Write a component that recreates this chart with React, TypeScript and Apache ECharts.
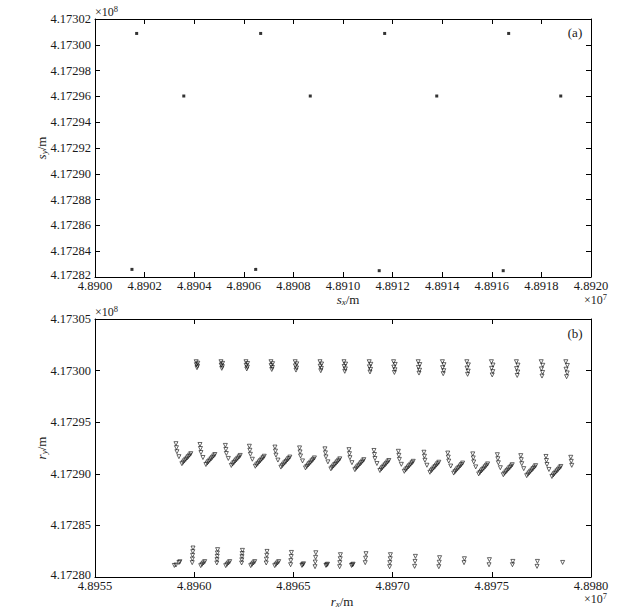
import { useEffect, useRef } from 'react';
import * as echarts from 'echarts';

const FONT = '"Liberation Serif", "Times New Roman", serif';
const INK = '#1a1a1a';

// ---------- panel (a): s_x / s_y in metres ----------
const aXTicks = { min: 48900000, max: 48920000, interval: 2000 };
const aYTicks = { min: 417282000, max: 417302000, interval: 2000 };

const aUpper: [number, number][] = [
  [48901680, 417300880], [48906680, 417300880], [48911680, 417300880], [48916680, 417300880],
];
const aMiddle: [number, number][] = [
  [48903580, 417296030], [48908680, 417296030], [48913780, 417296030], [48918780, 417296030],
];
const aLower: [number, number][] = [
  [48901490, 417282590], [48906480, 417282590], [48911460, 417282490], [48916460, 417282490],
];

// ---------- panel (b): r_x / r_y in metres ----------
const bXTicks = { min: 48955000, max: 48980000, interval: 5000 };
const bYTicks = { min: 417280000, max: 417305000, interval: 5000 };

const bUpper: [number, number][] = [
  [48960100, 417300860], [48960180, 417300715], [48960110, 417300570], [48960170, 417300425], [48960140, 417300280],
  [48961350, 417300860], [48961430, 417300700], [48961360, 417300540], [48961420, 417300380], [48961390, 417300220],
  [48962610, 417300860], [48962690, 417300685], [48962620, 417300510], [48962680, 417300335], [48962650, 417300160],
  [48963870, 417300860], [48963950, 417300670], [48963880, 417300485], [48963940, 417300300], [48963910, 417300110],
  [48965090, 417300860], [48965170, 417300655], [48965100, 417300455], [48965160, 417300250], [48965130, 417300050],
  [48966340, 417300860], [48966420, 417300640], [48966350, 417300425], [48966410, 417300210], [48966380, 417299990],
  [48967550, 417300860], [48967630, 417300630], [48967560, 417300395], [48967620, 417300165], [48967590, 417299930],
  [48968820, 417300860], [48968900, 417300610], [48968830, 417300365], [48968890, 417300115], [48968860, 417299870],
  [48970050, 417300860], [48970130, 417300600], [48970060, 417300340], [48970120, 417300080], [48970090, 417299820],
  [48971290, 417300860], [48971370, 417300585], [48971300, 417300310], [48971360, 417300035], [48971330, 417299760],
  [48972510, 417300860], [48972590, 417300570], [48972520, 417300280], [48972580, 417299990], [48972550, 417299700],
  [48973740, 417300860], [48973820, 417300555], [48973750, 417300250], [48973810, 417299945], [48973780, 417299640],
  [48974980, 417300860], [48975060, 417300540], [48974990, 417300220], [48975050, 417299900], [48975020, 417299580],
  [48976240, 417300860], [48976320, 417300530], [48976250, 417300195], [48976310, 417299865], [48976280, 417299530],
  [48977490, 417300860], [48977570, 417300515], [48977500, 417300165], [48977560, 417299820], [48977530, 417299470],
  [48978730, 417300860], [48978810, 417300500], [48978740, 417300135], [48978800, 417299775], [48978770, 417299410],
];

const bMiddle: [number, number][] = [
  [48959080, 417292920], [48959105, 417292530], [48959130, 417292140], [48959230, 417291660],
  [48959380, 417290980], [48959445, 417291120], [48959510, 417291260], [48959575, 417291400],
  [48959640, 417291530], [48959705, 417291670], [48959770, 417291810], [48959830, 417291950],

  [48960290, 417292840], [48960315, 417292450], [48960340, 417292060], [48960440, 417291580],
  [48960590, 417290900], [48960655, 417291040], [48960720, 417291180], [48960785, 417291320],
  [48960850, 417291450], [48960915, 417291590], [48960980, 417291730], [48961040, 417291870],

  [48961570, 417292750], [48961595, 417292360], [48961620, 417291970], [48961720, 417291490],
  [48961870, 417290810], [48961935, 417290950], [48962000, 417291090], [48962065, 417291230],
  [48962130, 417291360], [48962195, 417291500], [48962260, 417291640], [48962320, 417291780],

  [48962780, 417292670], [48962805, 417292280], [48962830, 417291890], [48962930, 417291410],
  [48963080, 417290730], [48963145, 417290870], [48963210, 417291010], [48963275, 417291150],
  [48963340, 417291280], [48963405, 417291420], [48963470, 417291560], [48963530, 417291700],

  [48964070, 417292590], [48964095, 417292200], [48964120, 417291810], [48964220, 417291330],
  [48964370, 417290650], [48964435, 417290790], [48964500, 417290930], [48964565, 417291070],
  [48964630, 417291200], [48964695, 417291340], [48964760, 417291480], [48964820, 417291620],

  [48965310, 417292510], [48965335, 417292120], [48965360, 417291730], [48965460, 417291250],
  [48965610, 417290570], [48965675, 417290710], [48965740, 417290850], [48965805, 417290990],
  [48965870, 417291120], [48965935, 417291260], [48966000, 417291400], [48966060, 417291540],

  [48966590, 417292420], [48966615, 417292030], [48966640, 417291640], [48966740, 417291160],
  [48966890, 417290480], [48966955, 417290620], [48967020, 417290760], [48967085, 417290900],
  [48967150, 417291030], [48967215, 417291170], [48967280, 417291310], [48967340, 417291450],

  [48967800, 417292340], [48967825, 417291950], [48967850, 417291560], [48967950, 417291080],
  [48968100, 417290400], [48968165, 417290540], [48968230, 417290680], [48968295, 417290820],
  [48968360, 417290950], [48968425, 417291090], [48968490, 417291230], [48968550, 417291370],

  [48969060, 417292260], [48969085, 417291870], [48969110, 417291480], [48969210, 417291000],
  [48969360, 417290320], [48969425, 417290460], [48969490, 417290600], [48969555, 417290740],
  [48969620, 417290870], [48969685, 417291010], [48969750, 417291150], [48969810, 417291290],

  [48970290, 417292180], [48970315, 417291790], [48970340, 417291400], [48970440, 417290920],
  [48970590, 417290240], [48970655, 417290380], [48970720, 417290520], [48970785, 417290660],
  [48970850, 417290790], [48970915, 417290930], [48970980, 417291070], [48971040, 417291210],

  [48971580, 417292090], [48971605, 417291700], [48971630, 417291310], [48971730, 417290830],
  [48971880, 417290150], [48971945, 417290290], [48972010, 417290430], [48972075, 417290570],
  [48972140, 417290700], [48972205, 417290840], [48972270, 417290980], [48972330, 417291120],

  [48972780, 417292010], [48972805, 417291620], [48972830, 417291230], [48972930, 417290750],
  [48973080, 417290070], [48973145, 417290210], [48973210, 417290350], [48973275, 417290490],
  [48973340, 417290620], [48973405, 417290760], [48973470, 417290900], [48973530, 417291040],

  [48974040, 417291930], [48974065, 417291540], [48974090, 417291150], [48974190, 417290670],
  [48974340, 417289990], [48974405, 417290130], [48974470, 417290270], [48974535, 417290410],
  [48974600, 417290540], [48974665, 417290680], [48974730, 417290820], [48974790, 417290960],

  [48975280, 417291850], [48975305, 417291460], [48975330, 417291070], [48975430, 417290590],
  [48975580, 417289910], [48975645, 417290050], [48975710, 417290190], [48975775, 417290330],
  [48975840, 417290460], [48975905, 417290600], [48975970, 417290740], [48976030, 417290880],

  [48976460, 417291760], [48976485, 417291370], [48976510, 417290980], [48976610, 417290500],
  [48976760, 417289820], [48976825, 417289960], [48976890, 417290100], [48976955, 417290240],
  [48977020, 417290370], [48977085, 417290510], [48977150, 417290650], [48977210, 417290790],

  [48977730, 417291680], [48977755, 417291290], [48977780, 417290900], [48977880, 417290420],
  [48978030, 417289740], [48978095, 417289880], [48978160, 417290020], [48978225, 417290160],
  [48978290, 417290290], [48978355, 417290430], [48978420, 417290570], [48978480, 417290710],

  [48978980, 417291600], [48979005, 417291210], [48979030, 417290820],
];

const bLowerStacks: [number, number][] = [
  [48959940, 417282810], [48959930, 417282455], [48959920, 417282100], [48959910, 417281745], [48959900, 417281390],
  [48961180, 417282650], [48961170, 417282330], [48961160, 417282010], [48961150, 417281680], [48961140, 417281360],
  [48962430, 417282580], [48962420, 417282275], [48962410, 417281970], [48962400, 417281665], [48962390, 417281360],
  [48963670, 417282480], [48963660, 417282110], [48963640, 417281730], [48963630, 417281360],
  [48964900, 417282380], [48964890, 417281985], [48964870, 417281585], [48964860, 417281190],
  [48966130, 417282350], [48966120, 417281900], [48966100, 417281450], [48966090, 417281000],
  [48967370, 417282160], [48967360, 417281770], [48967340, 417281390], [48967330, 417281000],
  [48968660, 417282260], [48968640, 417281825], [48968620, 417281390],
  [48969890, 417282160], [48969880, 417281770], [48969860, 417281390], [48969850, 417281000],
  [48971150, 417282000], [48971130, 417281510], [48971110, 417281030],
  [48972370, 417281870], [48972350, 417281430], [48972330, 417281000],
  [48973620, 417281770], [48973600, 417281390],
  [48974880, 417281680], [48974860, 417281190],
  [48976060, 417281510], [48976040, 417281190],
  [48977300, 417281510], [48977280, 417281030],
  [48978570, 417281410],
];

const bLowerGroups: [number, number][] = [
  [48959000, 417281120], [48959080, 417281160], [48959230, 417281400], [48959280, 417281480],
  [48960330, 417281100], [48960395, 417281230], [48960465, 417281360], [48960530, 417281490],
  [48961590, 417281100], [48961655, 417281230], [48961725, 417281360], [48961790, 417281490],
  [48962850, 417281100], [48962915, 417281230], [48962985, 417281360], [48963050, 417281490],
  [48964060, 417281100], [48964125, 417281230], [48964195, 417281360], [48964260, 417281490],
  [48965430, 417281120], [48965470, 417281200], [48965510, 417281280],
  [48966640, 417281120], [48966680, 417281180], [48966720, 417281240],
  [48967930, 417281120], [48967970, 417281180], [48968010, 417281240],
];

const fmtX = (v: number) => (v / 1e7).toFixed(4);

function makeAxis(gridIndex: number, pos: string, ticks: { min: number; max: number; interval: number }, showLabel: boolean, isX: boolean) {
  const fmtY = (v: number) => {
    const s = (v / 1e8).toFixed(5);
    return v === ticks.min ? `{lo|${s}}` : s;
  };
  return {
    type: 'value',
    gridIndex,
    position: pos,
    min: ticks.min,
    max: ticks.max,
    interval: ticks.interval,
    scale: true,
    axisLine: { show: true, onZero: false, lineStyle: { color: '#000', width: 1 } },
    axisTick: { show: true, inside: true, length: 5, lineStyle: { color: '#000', width: 1 } },
    splitLine: { show: false },
    axisLabel: {
      show: showLabel,
      margin: isX ? 3.5 : 4,
      color: INK,
      fontFamily: FONT,
      fontSize: 12.5,
      lineHeight: isX ? 10 : 7,
      formatter: isX ? fmtX : fmtY,
      rich: isX
        ? undefined
        : { lo: { fontFamily: FONT, fontSize: 12.5, color: INK, lineHeight: 7, padding: [0, 0, 4, 0] } },
    },
  };
}

const nameRich = {
  i: { fontFamily: FONT, fontSize: 13, fontStyle: 'italic', fill: INK, lineHeight: 12 },
  s: { fontFamily: FONT, fontSize: 9, fontStyle: 'italic', fill: INK, lineHeight: 9, padding: [6, 0, 0, 0] },
  n: { fontFamily: FONT, fontSize: 13, fill: INK, lineHeight: 12 },
};
const expRich = {
  a: { fontFamily: FONT, fontSize: 12, fill: INK, lineHeight: 11 },
  b: { fontFamily: FONT, fontSize: 8.5, fill: INK, lineHeight: 8, padding: [0, 0, 5, 0] },
};

function nameText(x: number, y: number, sym: string, sub: string, rotate: boolean) {
  return {
    type: 'text',
    x,
    y,
    rotation: rotate ? Math.PI / 2 : 0,
    silent: true,
    style: {
      text: `{i|${sym}}{s|${sub}}{n|/m}`,
      rich: nameRich,
      align: 'center',
      verticalAlign: 'middle',
    },
  };
}
function expText(x: number, y: number, p: string, align: string) {
  return {
    type: 'text',
    x,
    y,
    silent: true,
    style: { text: `{a|×10}{b|${p}}`, rich: expRich, align, verticalAlign: 'middle' },
  };
}

const triStyle = {
  type: 'scatter',
  xAxisIndex: 2,
  yAxisIndex: 2,
  symbol: 'triangle',
  symbolRotate: 180,
  symbolSize: [4, 4],
  silent: true,
  itemStyle: { color: 'rgba(0,0,0,0)', borderColor: '#111', borderWidth: 0.8 },
};
const sqStyle = {
  type: 'scatter',
  xAxisIndex: 0,
  yAxisIndex: 0,
  symbol: 'rect',
  symbolSize: 3,
  silent: true,
  itemStyle: { color: '#000' },
};

export default function App() {
  const ref = useRef<HTMLDivElement>(null);
  useEffect(() => {
    if (!ref.current) return;
    const chart = echarts.init(ref.current, null, { renderer: 'svg' });
    chart.setOption({
      animation: false,
      backgroundColor: '#ffffff',
      grid: [
        { left: 95, top: 19, width: 496, height: 258 },
        { left: 95, top: 319, width: 496, height: 258 },
      ],
      xAxis: [
        makeAxis(0, 'bottom', aXTicks, true, true),
        makeAxis(0, 'top', aXTicks, false, true),
        makeAxis(1, 'bottom', bXTicks, true, true),
        makeAxis(1, 'top', bXTicks, false, true),
      ],
      yAxis: [
        makeAxis(0, 'left', aYTicks, true, false),
        makeAxis(0, 'right', aYTicks, false, false),
        makeAxis(1, 'left', bYTicks, true, false),
        makeAxis(1, 'right', bYTicks, false, false),
      ],
      series: [
        { ...sqStyle, name: 'a-upper', data: aUpper },
        { ...sqStyle, name: 'a-middle', data: aMiddle },
        { ...sqStyle, name: 'a-lower', data: aLower },
        { ...triStyle, name: 'b-upper', data: bUpper },
        { ...triStyle, name: 'b-middle', data: bMiddle },
        { ...triStyle, name: 'b-lower-stacks', data: bLowerStacks },
        { ...triStyle, name: 'b-lower-groups', data: bLowerGroups },
      ],
      graphic: [
        nameText(41, 148, 's', 'y', true),
        nameText(348, 299, 's', 'x', false),
        nameText(41, 448, 'r', 'y', true),
        nameText(342, 601, 'r', 'x', false),
        expText(95, 11.5, '8', 'left'),
        expText(607, 299.5, '7', 'right'),
        expText(95, 311.5, '8', 'left'),
        expText(607, 598.5, '7', 'right'),
        {
          type: 'text', x: 575, y: 32, silent: true,
          style: { text: '(a)', fontFamily: FONT, fontSize: 13, fill: INK, align: 'center', verticalAlign: 'middle' },
        },
        {
          type: 'text', x: 575, y: 333, silent: true,
          style: { text: '(b)', fontFamily: FONT, fontSize: 13, fill: INK, align: 'center', verticalAlign: 'middle' },
        },
      ],
    });
    return () => chart.dispose();
  }, []);
  return (
    <div
      ref={ref}
      style={{ position: 'fixed', left: 0, top: 0, width: 631, height: 612, background: '#fff' }}
    />
  );
}
